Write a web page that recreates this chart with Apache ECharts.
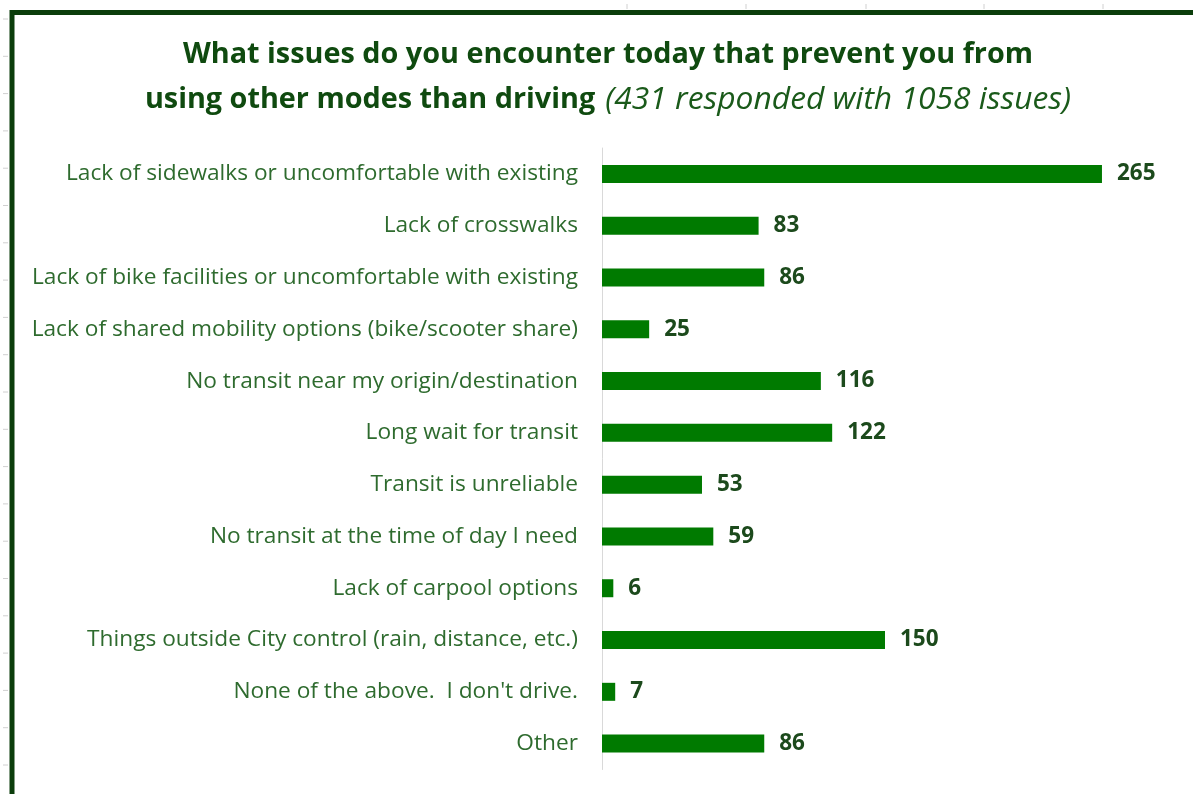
<!DOCTYPE html>
<html>
<head>
<meta charset="utf-8">
<script src="https://cdn.jsdelivr.net/npm/echarts@6/dist/echarts.min.js"></script>
<style>
html,body{margin:0;padding:0;background:#fff;}
#chart{width:1193px;height:794px;}
</style>
</head>
<body>
<div id="chart"></div>
<script>
const categories = [
  "Lack of sidewalks or uncomfortable with existing",
  "Lack of crosswalks",
  "Lack of bike facilities or uncomfortable with existing",
  "Lack of shared mobility options (bike/scooter share)",
  "No transit near my origin/destination",
  "Long wait for transit",
  "Transit is unreliable",
  "No transit at the time of day I need",
  "Lack of carpool options",
  "Things outside City control (rain, distance, etc.)",
  "None of the above.  I don't drive.",
  "Other"
];
const values = [265, 83, 86, 25, 116, 122, 53, 59, 6, 150, 7, 86];
const titleLine1 = "What issues do you encounter today that prevent you from";
const titleLine2Bold = "using other modes than driving";
const titleLine2Italic = "(431 responded with 1058 issues)";

const chart = echarts.init(document.getElementById('chart'));
const FONT = 'Open Sans';

const leftTicks = [];
for (let i = 0; i < 21; i++) leftTicks.push(19 + i * 37.3);
const topTicks = [627, 746, 866, 984, 1103];
const deco = [];
leftTicks.forEach(y => deco.push({type:'line', shape:{x1:3,y1:y,x2:8,y2:y}, style:{stroke:'#d0d0d0', lineWidth:1}, silent:true}));
topTicks.forEach(x => deco.push({type:'line', shape:{x1:x,y1:4,x2:x,y2:9}, style:{stroke:'#d0d0d0', lineWidth:1}, silent:true}));
deco.push({type:'rect', shape:{x:12, y:12.5, width:3000, height:3000}, style:{fill:'none', stroke:'#0b3d0b', lineWidth:5}, silent:true});

chart.setOption({
  animation: false,
  backgroundColor: '#ffffff',
  graphic: deco,
  title: {
    text: '{b|' + titleLine1 + '}\n{b2|' + titleLine2Bold + '}  {i|' + titleLine2Italic + '}',
    left: 603,
    top: 27,
    textAlign: 'center',
    textStyle: {
      rich: {
        b: {fontFamily: FONT, fontSize: 28.8, fontWeight: 'bold', color: '#0f4a0f', lineHeight: 45},
        b2: {fontFamily: FONT, fontSize: 28.8, fontWeight: 'bold', color: '#0f4a0f', lineHeight: 45},
        i: {fontFamily: FONT, fontSize: 31.8, fontStyle: 'italic', fontWeight: 'normal', color: '#1a5a1a', lineHeight: 45}
      }
    }
  },
  grid: {left: 602, top: 148, width: 566, height: 621.5, containLabel: false},
  xAxis: {
    type: 'value', min: 0, max: 300,
    show: false
  },
  yAxis: {
    type: 'category',
    data: categories,
    inverse: true,
    axisLine: {show: true, lineStyle: {color: '#d9d9d9', width: 1}},
    axisTick: {show: false},
    axisLabel: {fontFamily: FONT, fontSize: 22.7, color: '#2e6b2e', margin: 24}
  },
  series: [{
    type: 'bar',
    data: values,
    barWidth: 18,
    itemStyle: {color: '#007a00'},
    label: {show: true, position: 'right', distance: 15, fontFamily: FONT, fontSize: 22.5, fontWeight: 'bold', color: '#1c4a1c'}
  }]
});
</script>
</body>
</html>
